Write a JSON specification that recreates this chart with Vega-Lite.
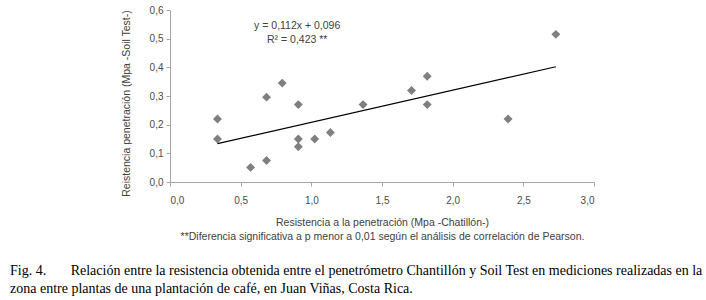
{
  "$schema": "https://vega.github.io/schema/vega-lite/v6.json",
  "autosize": {"type": "none"},
  "width": 424,
  "height": 172,
  "padding": {"left": 170, "top": 10, "right": 112, "bottom": 118},
  "background": "white",
  "config": {
    "locale": {"number": {"decimal": ",", "thousands": ".", "grouping": [3], "currency": ["", "€"]}},
    "view": {"stroke": null},
    "axis": {
      "grid": false,
      "domainColor": "#a6a6a6",
      "tickColor": "#a6a6a6",
      "tickSize": 4,
      "labelFont": "Liberation Sans",
      "labelFontSize": 10,
      "labelColor": "#4a4a4a",
      "titleFont": "Liberation Sans",
      "titleFontSize": 10.5,
      "titleFontWeight": "normal",
      "titleColor": "#404040"
    }
  },
  "title": {
    "text": [
      "Fig. 4.\u00a0\u00a0\u00a0\u00a0\u00a0\u00a0\u00a0Relación entre la resistencia obtenida entre el penetrómetro Chantillón y Soil Test en mediciones realizadas en la",
      "\u00a0\u00a0\u00a0\u00a0\u00a0\u00a0\u00a0\u00a0\u00a0\u00a0\u00a0\u00a0\u00a0\u00a0\u00a0\u00a0\u00a0zona entre plantas de una plantación de café, en Juan Viñas, Costa Rica."
    ],
    "orient": "bottom",
    "anchor": "start",
    "frame": "group",
    "dx": -160,
    "offset": 22,
    "font": "Liberation Serif",
    "fontSize": 14,
    "fontWeight": "normal",
    "color": "#000000",
    "lineHeight": 18
  },
  "datasets": {
    "points": [
      {"x": 0.336, "y": 0.220},
      {"x": 0.336, "y": 0.150},
      {"x": 0.570, "y": 0.051},
      {"x": 0.683, "y": 0.296},
      {"x": 0.683, "y": 0.075},
      {"x": 0.794, "y": 0.345},
      {"x": 0.908, "y": 0.270},
      {"x": 0.908, "y": 0.150},
      {"x": 0.908, "y": 0.123},
      {"x": 1.024, "y": 0.150},
      {"x": 1.135, "y": 0.173},
      {"x": 1.366, "y": 0.270},
      {"x": 1.709, "y": 0.319},
      {"x": 1.820, "y": 0.369},
      {"x": 1.820, "y": 0.270},
      {"x": 2.392, "y": 0.220},
      {"x": 2.730, "y": 0.515}
    ],
    "trend": [
      {"x": 0.336, "y": 0.134},
      {"x": 2.730, "y": 0.402}
    ],
    "labels": [
      {"x": 0.9, "y": 0.544, "label": "y = 0,112x + 0,096"},
      {"x": 0.9, "y": 0.497, "label": "R² = 0,423 **"}
    ]
  },
  "layer": [
    {
      "data": {"name": "points"},
      "mark": {"type": "point", "shape": "diamond", "filled": true, "size": 80, "color": "#7f7f7f", "opacity": 1},
      "encoding": {
        "x": {
          "field": "x", "type": "quantitative",
          "scale": {"domain": [0, 3], "nice": false, "zero": true},
          "axis": {
            "values": [0, 0.5, 1, 1.5, 2, 2.5, 3],
            "tickCount": 20,
            "format": ".1f",
            "labelPadding": 9,
            "labelOverlap": false,
            "title": ["Resistencia a la penetración (Mpa -Chatillón-)", "**Diferencia significativa a p menor a 0,01 según el análisis de correlación de Pearson."],
            "titlePadding": 12,
            "titleLineHeight": 14
          }
        },
        "y": {
          "field": "y", "type": "quantitative",
          "scale": {"domain": [0, 0.6], "nice": false},
          "axis": {
            "values": [0, 0.1, 0.2, 0.3, 0.4, 0.5, 0.6],
            "tickCount": 20,
            "format": ".1f",
            "labelPadding": 3,
            "labelOverlap": false,
            "labelFlush": false,
            "title": "Reistencia penetración (Mpa -Soil Test-)",
            "titlePadding": 18,
            "titleY": 93
          }
        }
      }
    },
    {
      "data": {"name": "trend"},
      "mark": {"type": "line", "color": "#000000", "strokeWidth": 1.2},
      "encoding": {
        "x": {"field": "x", "type": "quantitative"},
        "y": {"field": "y", "type": "quantitative"}
      }
    },
    {
      "data": {"name": "labels"},
      "mark": {"type": "text", "font": "Liberation Sans", "fontSize": 10.5, "color": "#404040", "align": "center", "baseline": "middle"},
      "encoding": {
        "x": {"field": "x", "type": "quantitative"},
        "y": {"field": "y", "type": "quantitative"},
        "text": {"field": "label"}
      }
    }
  ]
}
